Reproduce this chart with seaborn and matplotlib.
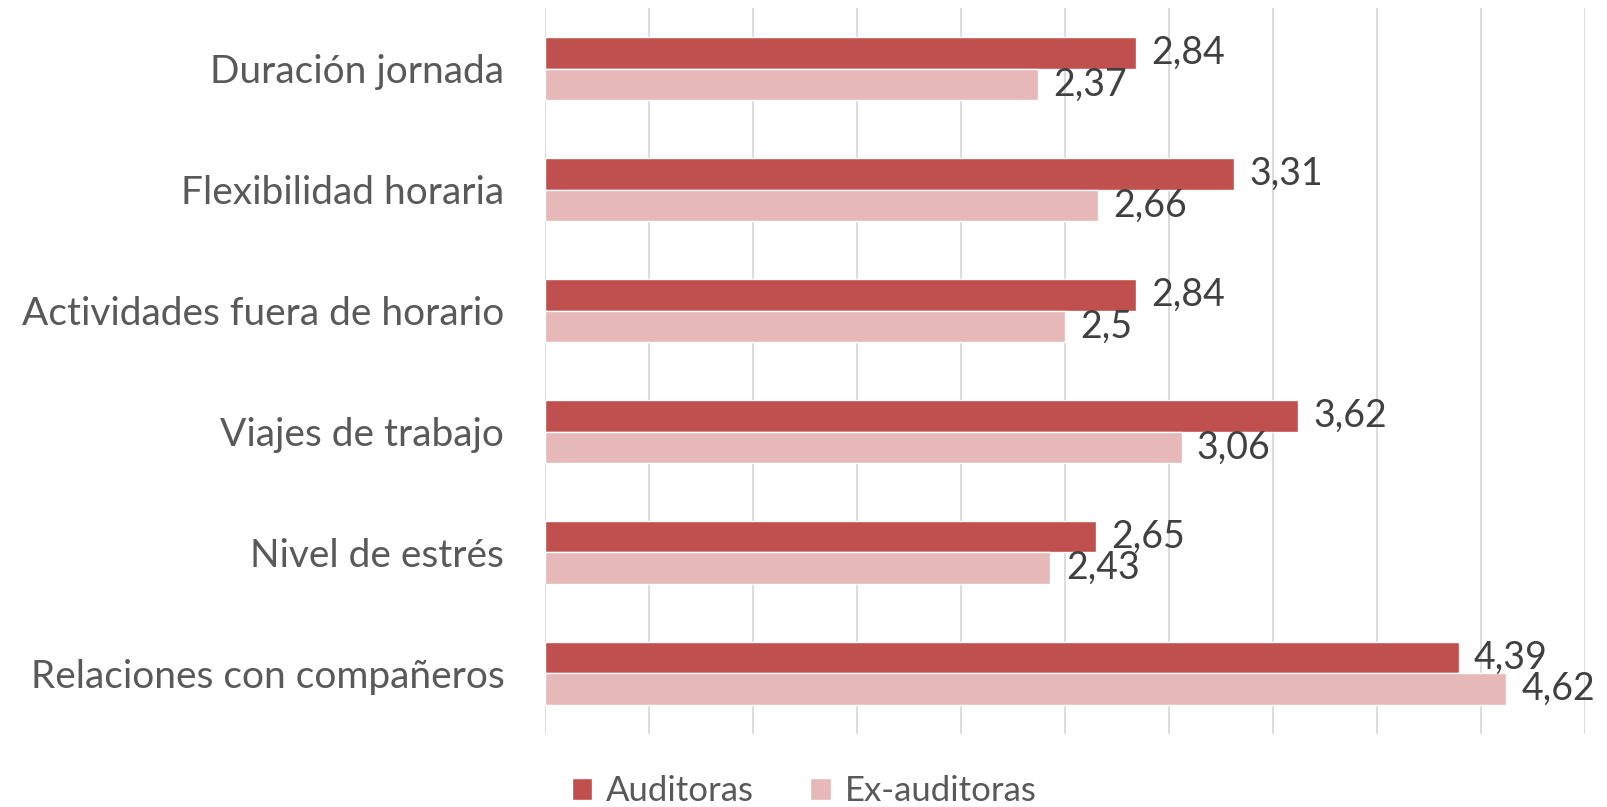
import numpy as np
import pandas as pd
import matplotlib
matplotlib.use('Agg')
import matplotlib.pyplot as plt
import seaborn as sns

# data
categorias = ["Duración jornada", "Flexibilidad horaria", "Actividades fuera de horario",
              "Viajes de trabajo", "Nivel de estrés", "Relaciones con compañeros"]
auditoras = [2.84, 3.31, 2.84, 3.62, 2.65, 4.39]
ex_auditoras = [2.37, 2.66, 2.5, 3.06, 2.43, 4.62]
grupos = ["Auditoras", "Ex-auditoras"]
colores = ["#C0504D", "#E6B9B8"]

df = pd.DataFrame({
    "categoria": categorias * 2,
    "valor": auditoras + ex_auditoras,
    "grupo": [grupos[0]] * len(categorias) + [grupos[1]] * len(categorias),
})

sns.set_style("white")
plt.rcParams['font.family'] = ['Lato', 'DejaVu Sans']

fig = plt.figure(figsize=(16.08, 8.07), dpi=100)
ax = fig.add_axes([0.3387, 0.0905, 0.6473, 0.8995])

sns.barplot(data=df, y="categoria", x="valor", hue="grupo", order=categorias,
            hue_order=grupos, palette=colores, width=0.52, orient="h",
            saturation=1, ax=ax, legend=True)

ax.set_xlim(0, 5)
ax.set_ylim(5.5, -0.5)
ax.set_xticks(np.arange(0, 5.01, 0.5))
ax.set_xticklabels([])
ax.grid(axis="x", color="#D9D9D9", linewidth=1.3)
ax.set_axisbelow(True)
for s in ax.spines.values():
    s.set_visible(False)
ax.tick_params(axis="both", length=0)
ax.tick_params(axis="y", labelsize=28, labelcolor="#595959", pad=29)
ax.set_xlabel("")
ax.set_ylabel("")

# data labels
for cont in ax.containers:
    ax.bar_label(cont, labels=[f"{v:g}".replace(".", ",") for v in cont.datavalues],
                 padding=11, fontsize=27, color="#404040")

handles, labels = ax.get_legend_handles_labels()
ax.get_legend().remove()
leg = fig.legend(handles, labels, loc="center", bbox_to_anchor=(0.5, 1 - 791 / 807), ncol=2,
                 frameon=False, fontsize=25, handlelength=0.6, handleheight=0.6,
                 columnspacing=1.6, handletextpad=0.4)
for t in leg.get_texts():
    t.set_color("#595959")

fig.savefig("out.png", dpi=100)
plt.close(fig)
